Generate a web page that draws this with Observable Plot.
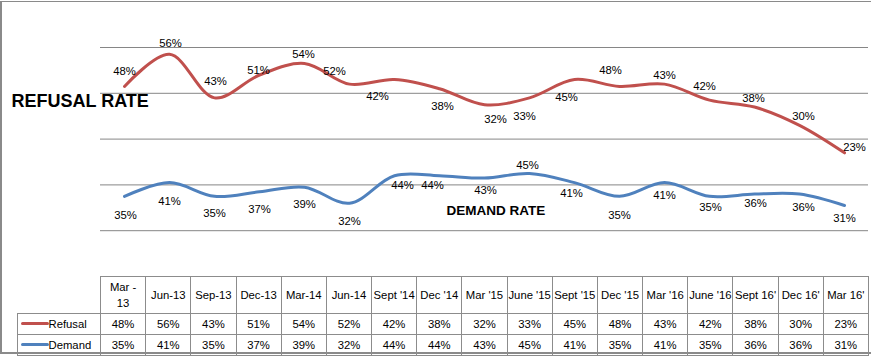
<!DOCTYPE html>
<html>
<head>
<meta charset="utf-8">
<script src="https://cdn.jsdelivr.net/npm/d3@7"></script>
<script src="https://cdn.jsdelivr.net/npm/@observablehq/plot@0.6"></script>
<style>
  html, body { margin: 0; padding: 0; background: #fff; overflow: hidden; }
  #wrap { position: relative; width: 871px; height: 357px; font-family: "Liberation Sans", Arial, sans-serif; }
  #frame { position: absolute; left: 0; top: 1px; width: 900px; height: 353px;
           border-left: 2px solid #8a8a8a; border-top: 1px solid #8a8a8a; border-bottom: 2px solid #8a8a8a; box-sizing: border-box; }
  #chart { position: absolute; left: 0; top: 0; }
  .title { position: absolute; font-weight: bold; color: #000; white-space: nowrap; }
  #refTitle { left: 11.5px; top: 91.5px; font-size: 18px; line-height: 18px; }
  #demTitle { left: 446.5px; top: 203.5px; font-size: 13.5px; line-height: 13.5px; }
  table { position: absolute; left: 16.5px; top: 275.5px; border-collapse: collapse; table-layout: fixed;
          font-size: 11.3px; color: #000; }
  td { border: 1px solid #8c8c8c; text-align: center; padding: 0; white-space: nowrap; overflow: visible; }
  tr.head td { height: 36px; white-space: pre-line; line-height: 16px; }
  tr.r1 td { height: 20.5px; }
  tr.r2 td { height: 19.5px; }
  td.blank { border: none; }
  td.leg { text-align: left; padding-left: 3px; }
  .sw { display: inline-block; width: 28px; height: 3px; border-radius: 1.5px; vertical-align: middle; margin-top: -2px; }
</style>
</head>
<body>
<div id="wrap">
  <div id="frame"></div>
  <div id="chart"></div>
  <div class="title" id="refTitle">REFUSAL RATE</div>
  <div class="title" id="demTitle">DEMAND RATE</div>
</div>
<script>
// ---- data ----
const dates = ["Mar -\n13","Jun-13","Sep-13","Dec-13","Mar-14","Jun-14","Sept '14","Dec '14","Mar '15","June '15","Sept '15","Dec '15","Mar '16","June '16","Sept 16'","Dec 16'","Mar 16'"];
const refusal = [48,56,43,51,54,52,42,38,32,33,45,48,43,42,38,30,23];
const demand  = [35,41,35,37,39,32,44,44,43,45,41,35,41,35,36,36,31];
const seriesNames = ["Refusal","Demand"];
const gridValues = [20,40,60,80,100];

// ---- styles / label placement (pixel offsets from each point) ----
const colors = ["#C0504D","#4F81BD"];
const refusalLabelOffset = [[0,-15],[1,-11],[1,-17],[-1,-5],[-1,-9],[-15,-13],[-17,17],[3,18],[11,15],[-5,18],[-8,18],[-9,-16],[0,-9],[-5,-14],[-1,-9],[4,-9],[10,-5]];
const demandLabelOffset  = [[1,19],[0,19],[0,17],[0,18],[0,17],[0,18],[8,10],[-7,10],[1,12],[-2,-8],[-3,11],[0,19],[0,13],[1,11],[1,9],[4,13],[0,13]];

// tidy table (demand first: refusal is stacked on top of demand, as in the source chart)
const tidy = [];
dates.forEach((date, i) => tidy.push({date, i, series: "Demand", value: demand[i]}));
dates.forEach((date, i) => tidy.push({date, i, series: "Refusal", value: refusal[i]}));

const stackOpts = {x: "date", y: "value", z: "series", order: ["Demand","Refusal"]};

// keep only some rows AFTER the stack has been computed on all rows
function pick(opts, pred) {
  const t = opts.transform;
  return {...opts, transform: (data, facets, ...rest) => {
    const r = t(data, facets, ...rest);
    const d = r.data ?? data;
    return {...r, facets: r.facets.map(f => Array.from(f).filter(k => pred(d[k])))};
  }};
}

const labelMarks = [];
seriesNames.forEach(name => {
  const offs = name === "Refusal" ? refusalLabelOffset : demandLabelOffset;
  dates.forEach((date, i) => {
    labelMarks.push(Plot.text(tidy, {
      ...pick(Plot.stackY2({...stackOpts, text: d => d.value + "%"}), d => d.series === name && d.i === i),
      fill: "#000", dx: offs[i][0], dy: offs[i][1]
    }));
  });
});

const chart = Plot.plot({
  width: 871,
  height: 276,
  marginLeft: 100,
  marginRight: 3,
  marginTop: 47,
  marginBottom: 0,
  style: {fontFamily: "'Liberation Sans', Arial, sans-serif", fontSize: "11.3px", background: "transparent", overflow: "visible"},
  x: {type: "point", domain: dates, axis: null},
  y: {domain: [0, 100], axis: null},
  color: {domain: seriesNames, range: colors},
  marks: [
    Plot.ruleY(gridValues, {stroke: "#868686", strokeWidth: 1}),
    Plot.line(tidy, Plot.stackY2({...stackOpts, stroke: "series", strokeWidth: 3, curve: "catmull-rom", strokeLinecap: "round"})),
    ...labelMarks
  ]
});
document.getElementById("chart").appendChild(chart);

// ---- data table below the chart ----
const table = document.createElement("table");
const colg = document.createElement("colgroup");
const c0 = document.createElement("col"); c0.style.width = "83.5px"; colg.appendChild(c0);
dates.forEach(() => { const c = document.createElement("col"); c.style.width = (768/17) + "px"; colg.appendChild(c); });
table.appendChild(colg);
const head = document.createElement("tr"); head.className = "head";
const b = document.createElement("td"); b.className = "blank"; head.appendChild(b);
dates.forEach(d => { const td = document.createElement("td"); td.textContent = d; head.appendChild(td); });
table.appendChild(head);
[refusal, demand].forEach((vals, k) => {
  const tr = document.createElement("tr"); tr.className = k === 0 ? "r1" : "r2";
  const lg = document.createElement("td"); lg.className = "leg";
  const sw = document.createElement("span"); sw.className = "sw"; sw.style.background = colors[k];
  lg.appendChild(sw); lg.appendChild(document.createTextNode(seriesNames[k]));
  tr.appendChild(lg);
  vals.forEach(v => { const td = document.createElement("td"); td.textContent = v + "%"; tr.appendChild(td); });
  table.appendChild(tr);
});
document.getElementById("wrap").appendChild(table);
</script>
</body>
</html>
